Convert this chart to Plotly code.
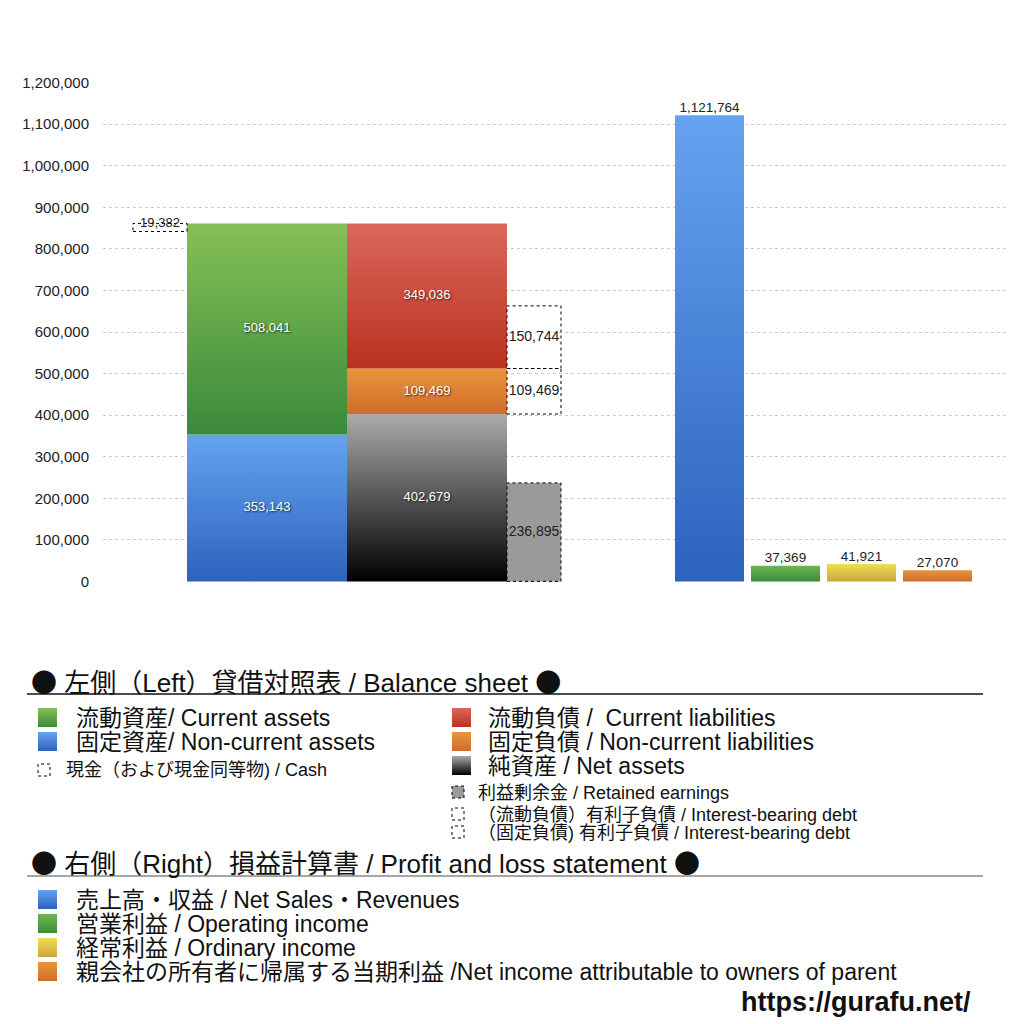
import plotly.graph_objects as go

# ---- data (unit: million yen) ----
current_assets = 508041
noncurrent_assets = 353143
cash = 19382
current_liabilities = 349036
noncurrent_liabilities = 109469
net_assets = 402679
retained_earnings = 236895
ib_debt_current = 150744
ib_debt_noncurrent = 109469

pl_names = ["売上高・収益", "営業利益", "経常利益", "親会社の所有者に帰属する当期利益"]
pl_en = ["Net Sales・Revenues", "Operating income", "Ordinary income",
         "Net income attributable to owners of parent"]
pl_values = [1121764, 37369, 41921, 27070]

y_ticks = list(range(0, 1200001, 100000))

# ---- layout helpers ----
PAGE = 1024          # browser window
BODY = 8             # default body margin of the page
W = H = PAGE - BODY  # figure size
PLOT_L, PLOT_R, PLOT_T, PLOT_B = 103, 1007, 82, 582   # page pixels
BS_LEFT, BS_W, SIDE_W = 84, 160, 54                   # plot units
PL_LEFT, PL_W, PL_STEP = 572, 69, 76

FONT = "Liberation Sans, Noto Sans CJK JP, sans-serif"
DOT = '<span style="font-family:Noto Sans CJK JP">●</span>'

grad = {
    "green": ["#3a8a3a", "#86c057"],
    "blue": ["#2d62bd", "#65a3f0"],
    "red": ["#b8321f", "#dc675c"],
    "orange": ["#d26b2a", "#e8973c"],
    "gray": ["#000000", "#ababab"],
    "pl_green": ["#3c8c3a", "#6cb552"],
    "yellow": ["#c9a83a", "#f2dd55"],
}


def px(x):
    return (x - BODY) / W


def py(y):
    return 1 - (y - BODY) / H


def rect(x0, x1, y0, y1):
    return [x0, x1, x1, x0, x0], [y0, y0, y1, y1, y0]


fig = go.Figure()


def add_block(x0, x1, y0, y1, colors, xref="x", yref="y"):
    xs, ys = rect(x0, x1, y0, y1)
    fig.add_trace(go.Scatter(
        x=xs, y=ys, mode="lines", fill="toself",
        line=dict(width=0, color="rgba(0,0,0,0)"),
        fillgradient=dict(type="vertical",
                          colorscale=[[0, colors[0]], [1, colors[1]]]),
        hoverinfo="skip", showlegend=False, xaxis=xref, yaxis=yref))


def add_dotted(x0, x1, y0, y1, fill=None, xref="x", yref="y"):
    xs, ys = rect(x0, x1, y0, y1)
    fig.add_trace(go.Scatter(
        x=xs, y=ys, mode="lines",
        fill="toself" if fill else None, fillcolor=fill,
        line=dict(width=1, color="black", dash="dot"),
        hoverinfo="skip", showlegend=False, xaxis=xref, yaxis=yref))


def add_label(x, y, text, white=False, pos="middle center", size=13):
    fig.add_trace(go.Scatter(
        x=[x], y=[y], mode="text", text=[text], textposition=pos,
        textfont=dict(family=FONT, size=size,
                      color="white" if white else "#222",
                      shadow="1px 1px 2px rgba(0,0,0,0.7)" if white else "none"),
        hoverinfo="skip", showlegend=False))


fmt = "{:,}".format

# ---- balance sheet ----
ax0, ax1 = BS_LEFT, BS_LEFT + BS_W
lx0, lx1 = ax1, ax1 + BS_W
sx0, sx1 = lx1, lx1 + SIDE_W
total_assets = noncurrent_assets + current_assets

add_block(ax0, ax1, 0, noncurrent_assets, grad["blue"])
add_block(ax0, ax1, noncurrent_assets, total_assets, grad["green"])
add_dotted(ax0 - SIDE_W, ax0, total_assets - cash, total_assets)

nl_top = net_assets + noncurrent_liabilities
cl_top = nl_top + current_liabilities
add_block(lx0, lx1, 0, net_assets, grad["gray"])
add_block(lx0, lx1, net_assets, nl_top, grad["orange"])
add_block(lx0, lx1, nl_top, cl_top, grad["red"])

add_dotted(sx0, sx1, 0, retained_earnings, fill="#9a9a9a")
add_dotted(sx0, sx1, net_assets, net_assets + ib_debt_noncurrent)
add_dotted(sx0, sx1, nl_top, nl_top + ib_debt_current)

add_label((ax0 + ax1) / 2, noncurrent_assets / 2, fmt(noncurrent_assets), True)
add_label((ax0 + ax1) / 2, noncurrent_assets + current_assets / 2, fmt(current_assets), True)
add_label(ax0 - SIDE_W / 2, total_assets - cash / 2 + 10000, fmt(cash), size=13)
add_label((lx0 + lx1) / 2, net_assets / 2, fmt(net_assets), True)
add_label((lx0 + lx1) / 2, net_assets + noncurrent_liabilities / 2, fmt(noncurrent_liabilities), True)
add_label((lx0 + lx1) / 2, nl_top + current_liabilities / 2, fmt(current_liabilities), True)
add_label((sx0 + sx1) / 2, retained_earnings / 2, fmt(retained_earnings), size=14)
add_label((sx0 + sx1) / 2, net_assets + ib_debt_noncurrent / 2, fmt(ib_debt_noncurrent), size=14)
add_label((sx0 + sx1) / 2, nl_top + ib_debt_current / 2, fmt(ib_debt_current), size=14)

# ---- profit and loss ----
pl_colors = [grad["blue"], grad["pl_green"], grad["yellow"], grad["orange"]]
for i, (v, c) in enumerate(zip(pl_values, pl_colors)):
    x0 = PL_LEFT + i * PL_STEP
    add_block(x0, x0 + PL_W, 0, v, c)
    add_label(x0 + PL_W / 2, v, fmt(v), pos="top center", size=13.5)

# ---- custom legend (overlay axis in page pixels) ----
notes = []


def note(x, y, text, size=23, **kw):
    notes.append(dict(x=px(x), y=py(y), xref="paper", yref="paper",
                      text=text, showarrow=False, xanchor="left",
                      yanchor="middle", font=dict(family=FONT, size=size,
                                                  color="#111"), **kw))


def swatch(x, y, colors, s=19):
    add_block(x, x + s, y + s, y, colors, xref="x2", yref="y2")


def dotted_swatch(x, y, fill=None, s=12):
    add_dotted(x, x + s, y + s, y, fill=fill, xref="x2", yref="y2")


note(29, 680, DOT + " 左側（Left）貸借対照表 / Balance sheet " + DOT, size=26)
swatch(38, 708, grad["green"])
note(74, 718, "流動資産/ Current assets")
swatch(38, 732, grad["blue"])
note(74, 742, "固定資産/ Non-current assets")
dotted_swatch(38, 764)
note(64, 770, "現金（および現金同等物) / Cash", size=18)

swatch(452, 708, grad["red"])
note(486, 718, "流動負債 /  Current liabilities")
swatch(452, 732, grad["orange"])
note(486, 742, "固定負債 / Non-current liabilities")
swatch(452, 756, grad["gray"])
note(486, 766, "純資産 / Net assets")
dotted_swatch(452, 786, fill="#9a9a9a")
note(476, 793, "利益剰余金 / Retained earnings", size=18)
dotted_swatch(452, 808)
note(476, 815, "（流動負債）有利子負債 / Interest-bearing debt", size=18)
dotted_swatch(452, 826)
note(476, 833, "（固定負債) 有利子負債 / Interest-bearing debt", size=18)

note(29, 861, DOT + " 右側（Right）損益計算書 / Profit and loss statement " + DOT, size=26)
for i, (jp, en, c) in enumerate(zip(pl_names, pl_en, pl_colors)):
    y = 890 + i * 24
    swatch(38, y, c)
    sep = " /" if i == 3 else " / "
    note(74, y + 10, jp + sep + en)

notes.append(dict(x=px(973), y=py(1002), xref="paper", yref="paper",
                  text="<b>https://gurafu.net/</b>", showarrow=False,
                  xanchor="right", yanchor="middle",
                  font=dict(family=FONT, size=27, color="#111")))

shapes = [
    dict(type="line", xref="paper", yref="paper", x0=px(27), x1=px(983),
         y0=py(694), y1=py(694), line=dict(color="#111", width=1.5)),
    dict(type="line", xref="paper", yref="paper", x0=px(27), x1=px(983),
         y0=py(876), y1=py(876), line=dict(color="#888", width=1.5)),
]

fig.update_layout(
    width=W, height=H,
    margin=dict(l=0, r=0, t=0, b=0, pad=0),
    paper_bgcolor="white", plot_bgcolor="rgba(0,0,0,0)",
    font=dict(family=FONT, color="#222"),
    showlegend=False,
    xaxis=dict(domain=[px(PLOT_L), px(PLOT_R)], range=[0, PLOT_R - PLOT_L],
               visible=False, fixedrange=True, automargin=False),
    yaxis=dict(domain=[py(PLOT_B), py(PLOT_T)], range=[-1500, 1201500],
               tickvals=y_ticks, tickformat=",d",
               showgrid=True, gridcolor="#c8c8c8", griddash="dot", gridwidth=1,
               zeroline=False, showline=False, automargin=False,
               ticks="outside", ticklen=10, tickcolor="rgba(0,0,0,0)",
               tickfont=dict(family=FONT, size=15, color="#222"),
               fixedrange=True),
    xaxis2=dict(domain=[0, 1], range=[BODY, PAGE], visible=False,
                fixedrange=True, anchor="y2", automargin=False),
    yaxis2=dict(domain=[0, 1], range=[PAGE, BODY], visible=False,
                fixedrange=True, anchor="x2", automargin=False),
    annotations=notes,
    shapes=shapes,
)

fig.write_html("out.html")
